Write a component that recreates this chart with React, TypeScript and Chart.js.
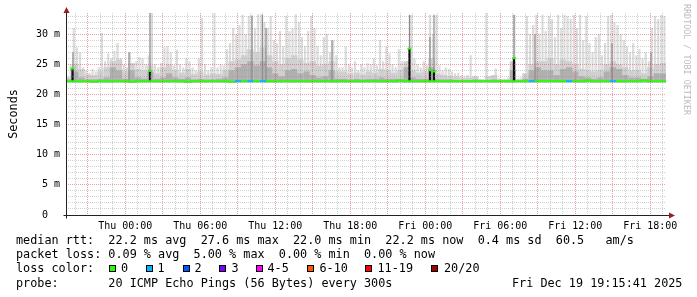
import React, { useEffect, useRef } from 'react';
import { Chart, registerables } from 'chart.js';

Chart.register(...registerables);

// ---------- time axis: hours relative to Thu 00:00 ----------
const T_START = -4.738; // Wed 19:15:41
const T_END = 43.262; // Fri 19:15:41
const FINE_STEP = 0.25; // 15 min slots
const COARSE_STEP = 0.5; // 30 min slots
const SMOKE_FLOOR = 22.0;
const Y_MAX = 33.5;

// ---------- tick labels ----------
const xTickHours = [0, 6, 12, 18, 24, 30, 36, 42];
const xTickLabels = ['Thu 00:00', 'Thu 06:00', 'Thu 12:00', 'Thu 18:00', 'Fri 00:00', 'Fri 06:00', 'Fri 12:00', 'Fri 18:00'];
const yTickValues = [0, 5, 10, 15, 20, 25, 30];
const yTickLabels = ['0  ', '5 m', '10 m', '15 m', '20 m', '25 m', '30 m'];

// ---------- smoke: highest ping per 15 min slot (ms) ----------
const smokeMax = [
  23.0, 25.0, 31.0, 27.8, 27.0, 24.5, 24.0, 23.6,
  24.2, 23.8, 24.5, 30.2, 25.5, 26.8, 26.0, 27.2,
  28.5, 26.0, 25.0, 24.5, 27.0, 24.2, 25.5, 26.2,
  26.0, 25.0, 26.5, 33.5, 25.0, 24.5, 25.2, 27.8,
  28.0, 27.0, 24.8, 27.4, 25.0, 24.5, 26.0, 25.5,
  24.5, 24.0, 26.0, 32.7, 25.0, 24.0, 24.5, 33.5,
  24.5, 25.0, 24.8, 27.5, 28.5, 31.0, 30.0, 31.5,
  33.2, 30.0, 33.0, 33.2, 31.0, 33.3, 33.3, 32.0,
  31.0, 33.0, 29.0, 28.5, 30.5, 28.0, 33.0, 30.5,
  31.0, 33.3, 32.0, 29.5, 28.0, 30.5, 33.0, 31.0,
  28.0, 26.5, 29.5, 30.0, 27.0, 29.0, 26.5, 24.5,
  24.5, 27.9, 25.0, 24.5, 25.5, 24.0, 25.0, 24.5,
  25.2, 25.0, 26.0, 24.8, 29.0, 25.5, 27.9, 26.8,
  25.0, 24.5, 27.5, 25.5, 25.0, 25.5, 33.2, 26.0,
  25.0, 24.5, 25.5, 24.8, 33.2, 30.0, 33.2, 24.8,
  24.0, 24.5, 24.2, 23.8, 23.5, 23.6, 23.2, 23.0,
  23.2, 26.5, 23.0, 22.6, 22.6, 22.5, 33.5, 22.6,
  23.0, 24.3, 22.7, 22.6, 22.6, 22.8, 23.5, 33.2,
  22.7, 22.8, 22.9, 33.0, 30.0, 31.5, 33.2, 30.0,
  33.2, 30.5, 33.0, 32.5, 29.5, 33.2, 31.0, 33.2,
  33.0, 32.5, 33.2, 31.0, 33.2, 29.0, 33.0, 28.5,
  27.0, 29.5, 30.0, 26.5, 28.5, 33.0, 33.2, 32.0,
  31.5, 30.0, 29.0, 28.0, 27.0, 28.5, 26.5, 27.5,
  26.0, 27.0, 25.5, 31.0, 33.0, 32.5, 33.2, 33.0,
];

// ---------- smoke: upper quartile per 30 min slot ----------
const smokeMid = [
  22.8, 25.0, 24.2, 23.3, 23.2, 23.8, 24.5, 25.5,
  25.8, 23.8, 25.2, 24.2, 24.0, 24.8, 23.5, 24.5,
  25.0, 24.0, 23.6, 24.2, 23.4, 23.8, 23.3, 23.5,
  23.4, 24.0, 25.5, 25.8, 26.5, 27.5, 27.0, 27.8,
  26.5, 25.5, 25.0, 26.0, 26.5, 25.8, 25.2, 25.5,
  24.8, 25.0, 25.5, 23.8, 23.8, 23.4, 23.6, 23.3,
  23.8, 23.6, 24.2, 24.0, 23.6, 24.0, 25.5, 24.0,
  23.6, 23.8, 26.0, 23.4, 23.2, 23.0, 22.9, 22.7,
  22.8, 23.0, 22.5, 23.0, 23.2, 22.5, 22.5, 25.5,
  22.5, 23.5, 25.0, 25.5, 25.5, 26.0, 25.0, 25.8,
  25.5, 25.0, 24.2, 24.0, 23.8, 24.0, 25.0, 25.5,
  25.0, 24.5, 24.0, 24.0, 23.5, 24.5, 25.0, 25.2,
];

// ---------- smoke: dense core per 30 min slot ----------
const smokeDark = [
  22.5, 23.8, 22.8, 22.5, 22.5, 22.6, 22.8, 24.5,
  24.0, 22.6, 24.0, 22.8, 22.6, 23.8, 22.6, 22.8,
  23.5, 22.8, 22.6, 22.8, 22.5, 22.6, 22.5, 22.5,
  22.6, 22.8, 24.0, 24.5, 25.0, 25.5, 24.8, 25.5,
  24.5, 23.5, 23.0, 24.0, 24.2, 23.5, 23.8, 23.2,
  22.8, 23.0, 24.0, 22.6, 22.6, 22.5, 22.6, 22.5,
  22.6, 22.6, 22.8, 22.6, 22.6, 22.6, 24.5, 22.8,
  22.6, 22.6, 24.5, 22.5, 22.5, 22.5, 22.4, 22.4,
  22.4, 22.5, 22.4, 22.4, 22.5, 22.4, 22.4, 24.0,
  22.4, 22.6, 24.0, 24.5, 24.0, 24.0, 23.2, 24.2,
  24.5, 23.8, 23.0, 22.8, 22.6, 22.8, 23.8, 24.5,
  24.2, 23.2, 22.8, 22.8, 22.6, 23.0, 23.5, 23.5,
];

// ---------- median rtt and lost pings per 30 min slot ----------
const medianRtt = [
  22.2, 22.2, 22.2, 22.2, 22.1, 22.2, 22.2, 22.2,
  22.2, 22.2, 22.1, 22.2, 22.2, 22.2, 22.2, 22.2,
  22.2, 22.2, 22.2, 22.1, 22.2, 22.2, 22.2, 22.2,
  22.2, 22.2, 22.1, 22.2, 22.2, 22.2, 22.2, 22.2,
  22.2, 22.2, 22.2, 22.2, 22.2, 22.2, 22.2, 22.2,
  22.2, 22.2, 22.2, 22.2, 22.2, 22.2, 22.2, 22.2,
  22.2, 22.2, 22.2, 22.2, 22.2, 22.3, 22.2, 22.2,
  22.2, 22.2, 22.2, 22.2, 22.2, 22.2, 22.2, 22.2,
  22.2, 22.2, 22.2, 22.2, 22.2, 22.2, 22.2, 22.2,
  22.2, 22.2, 22.2, 22.2, 22.2, 22.2, 22.2, 22.2,
  22.2, 22.2, 22.2, 22.3, 22.2, 22.2, 22.2, 22.2,
  22.2, 22.2, 22.2, 22.2, 22.3, 22.2, 22.2, 22.2,
];
const lossCount = [
  0, 0, 0, 0, 0, 0, 0, 0, 0, 0, 0, 0, 0, 0, 0, 0,
  0, 0, 0, 0, 0, 0, 0, 0, 0, 0, 0, 1, 0, 1, 0, 1,
  0, 0, 0, 0, 0, 0, 0, 0, 0, 0, 0, 0, 0, 0, 0, 0,
  0, 0, 0, 0, 0, 0, 0, 0, 0, 0, 0, 0, 0, 0, 0, 0,
  0, 0, 0, 0, 0, 0, 0, 0, 0, 0, 1, 0, 0, 0, 0, 0,
  1, 0, 0, 0, 0, 0, 0, 1, 0, 0, 0, 0, 0, 0, 0, 0,
];

// ---------- isolated spikes ----------
const greySpikeHours = [-4.18, 0.3, 1.98, 10.14, 10.98, 11.26, 16.54, 22.74, 24.38, 24.7, 31.1, 32.78, 38.94, 42.06];
const greySpikeTop = [27.0, 27.0, 33.5, 33.0, 33.2, 31.0, 29.0, 33.2, 29.5, 33.2, 33.2, 30.0, 28.5, 27.0];
const blackSpikeHours = [-4.22, 1.98, 22.74, 24.38, 24.7, 31.1];
const blackSpikeTop = [24.3, 24.0, 27.7, 24.0, 24.0, 26.0];
const medianJumpHours = [-4.22, 1.98, 22.74, 24.38, 24.7, 31.1];
const medianJumpValue = [24.3, 23.9, 27.6, 24.0, 23.8, 26.0];

// ---------- legend ----------
const rttStats = ['22.2', '27.6', '22.0', '22.2'];
const rttSd = '0.4';
const rttAmS = '60.5';
const lossStats = ['0.09', '5.00', '0.00', '0.00'];
const lossLabels = ['0', '1', '2', '3', '4-5', '6-10', '11-19', '20/20'];
const lossColors = ['#26ff00', '#00b8ff', '#0059ff', '#7e00ff', '#ff00ff', '#ff5500', '#ff0000', '#a10000'];
const probeText = '20 ICMP Echo Pings (56 Bytes) every 300s';
const stampText = 'Fri Dec 19 19:15:41 2025';

// layout of the loss colour legend (pixels)
const lossBoxLeft = [109, 146, 183, 219, 256, 307, 365, 431];
const lossTextLeft = [121, 157.5, 194.5, 231.5, 267.5, 319.5, 377.5, 444];

const MONO = '"DejaVu Sans Mono", monospace';
const GRID_MAJOR = 'rgba(222, 80, 80, 0.55)';
const GRID_MINOR = 'rgba(150, 150, 150, 0.45)';

const decorPlugin = {
  id: 'decor',
  afterDraw(chart: any) {
    const { ctx, scales } = chart;
    const x = scales.x;
    const y = scales.y;
    const x0 = Math.round(x.getPixelForValue(T_START)) + 0.5;
    const x1 = x.getPixelForValue(T_END);
    const y0 = Math.round(y.getPixelForValue(0)) + 0.5;
    const yTop = y.getPixelForValue(Y_MAX);
    ctx.save();
    ctx.strokeStyle = '#222';
    ctx.lineWidth = 1;
    ctx.beginPath();
    ctx.moveTo(x0 - 3, y0);
    ctx.lineTo(x1 + 3, y0);
    ctx.moveTo(x0, y0 + 3);
    ctx.lineTo(x0, yTop - 1);
    ctx.stroke();
    ctx.fillStyle = '#9b1c1c';
    ctx.beginPath();
    ctx.moveTo(x1 + 9, y0);
    ctx.lineTo(x1 + 3, y0 - 3);
    ctx.lineTo(x1 + 3, y0 + 3);
    ctx.closePath();
    ctx.fill();
    ctx.beginPath();
    ctx.moveTo(x0, yTop - 6);
    ctx.lineTo(x0 - 3, yTop);
    ctx.lineTo(x0 + 3, yTop);
    ctx.closePath();
    ctx.fill();

    ctx.fillStyle = '#000';
    ctx.font = `11.8px ${MONO}`;
    ctx.textAlign = 'center';
    ctx.textBaseline = 'alphabetic';
    ctx.translate(16.5, 114);
    ctx.rotate(-Math.PI / 2);
    ctx.fillText('Seconds', 0, 0);
    ctx.restore();

    ctx.save();
    ctx.fillStyle = '#bcbcbc';
    ctx.font = `8.4px ${MONO}`;
    ctx.textAlign = 'center';
    ctx.textBaseline = 'alphabetic';
    ctx.translate(684, 59.5);
    ctx.rotate(Math.PI / 2);
    ctx.fillText('RRDTOOL / TOBI OETIKER', 0, 0);
    ctx.restore();
  },
};

function buildConfig(): any {
  const lightData = smokeMax.map((v, i) => ({ x: T_START + (i + 0.5) * FINE_STEP, y: [SMOKE_FLOOR, v] }));
  const midData = smokeMid.map((v, i) => ({ x: T_START + (i + 0.5) * COARSE_STEP, y: [SMOKE_FLOOR, v] }));
  const darkData = smokeDark.map((v, i) => ({ x: T_START + (i + 0.5) * COARSE_STEP, y: [SMOKE_FLOOR, v] }));
  const greyData = greySpikeHours.map((h, i) => ({ x: h, y: [SMOKE_FLOOR, greySpikeTop[i]] }));
  const blackData = blackSpikeHours.map((h, i) => ({ x: h, y: [22.2, blackSpikeTop[i]] }));
  const medianData = medianRtt.map((v, i) => ({ x: T_START + i * COARSE_STEP, y: v }));
  medianData.push({ x: T_END, y: medianRtt[medianRtt.length - 1] });
  const jumpData = medianJumpHours.map((h, i) => ({ x: h, y: medianJumpValue[i] }));

  const hourTicks: { value: number }[] = [];
  for (let h = Math.ceil(T_START); h <= Math.floor(T_END); h++) hourTicks.push({ value: h });
  const mTicks: { value: number }[] = [];
  for (let v = 0; v <= Math.floor(Y_MAX); v++) mTicks.push({ value: v });

  const barBase = { type: 'bar', grouped: false, borderWidth: 0, inflateAmount: 0 };

  return {
    type: 'bar',
    data: {
      datasets: [
        { ...barBase, data: lightData, backgroundColor: '#dcdcdc', barThickness: 2.2, order: 10 },
        { ...barBase, data: midData, backgroundColor: '#d0d0d0', barThickness: 6.3, order: 9 },
        { ...barBase, data: darkData, backgroundColor: '#b0b0b0', barThickness: 6.3, order: 8 },
        { ...barBase, data: greyData, backgroundColor: '#8a8a8a', barThickness: 1.2, order: 7 },
        { ...barBase, data: blackData, backgroundColor: '#111111', barThickness: 2.2, order: 6 },
        {
          type: 'line',
          data: medianData,
          stepped: 'before',
          borderWidth: 2,
          borderColor: lossColors[0],
          pointRadius: 0,
          order: 5,
          segment: {
            borderColor: (c: any) => lossColors[lossCount[c.p0DataIndex] || 0],
          },
        },
        {
          type: 'scatter',
          data: jumpData,
          pointStyle: 'line',
          pointRadius: 2,
          pointBorderWidth: 2,
          borderColor: lossColors[0],
          pointBorderColor: lossColors[0],
          order: 4,
        },
      ],
    },
    options: {
      responsive: false,
      animation: false,
      devicePixelRatio: 1,
      events: [],
      layout: { padding: { top: 13, right: 31, left: 0, bottom: 0 } },
      plugins: { legend: { display: false }, tooltip: { enabled: false } },
      scales: {
        x: {
          type: 'linear',
          min: T_START,
          max: T_END,
          offset: false,
          afterBuildTicks: (s: any) => { s.ticks = hourTicks.map(t => ({ ...t })); },
          afterFit: (s: any) => { s.height = 82; },
          grid: {
            offset: false,
            z: 1,
            drawTicks: false,
            lineWidth: 1,
            color: (c: any) => (c.tick && c.tick.value % 3 === 0 ? GRID_MAJOR : GRID_MINOR),
          },
          border: { display: false, dash: [1, 1] },
          ticks: {
            autoSkip: false,
            maxRotation: 0,
            minRotation: 0,
            padding: 5,
            color: '#000',
            font: { family: MONO, size: 10 },
            callback: (v: any) => {
              const k = xTickHours.indexOf(Number(v));
              return k >= 0 ? xTickLabels[k] : '';
            },
          },
        },
        y: {
          type: 'linear',
          min: 0,
          max: Y_MAX,
          afterBuildTicks: (s: any) => { s.ticks = mTicks.map(t => ({ ...t })); },
          afterFit: (s: any) => { s.width = 66; },
          grid: {
            z: 1,
            drawTicks: false,
            lineWidth: 1,
            color: (c: any) => (c.tick && c.tick.value % 5 === 0 ? GRID_MAJOR : GRID_MINOR),
          },
          border: { display: false, dash: [1, 1] },
          ticks: {
            autoSkip: false,
            padding: 6,
            color: '#000',
            font: { family: MONO, size: 10 },
            callback: (v: any) => {
              const k = yTickValues.indexOf(Number(v));
              return k >= 0 ? yTickLabels[k] : '';
            },
          },
        },
      },
    },
    plugins: [decorPlugin],
  };
}

const textStyle: React.CSSProperties = {
  position: 'absolute',
  fontFamily: MONO,
  fontSize: '11.8px',
  lineHeight: '14px',
  whiteSpace: 'pre',
  color: '#000',
  margin: 0,
};

export default function App() {
  const ref = useRef<HTMLCanvasElement>(null);
  useEffect(() => {
    document.body.style.margin = '0';
    const chart = new Chart(ref.current as HTMLCanvasElement, buildConfig());
    return () => chart.destroy();
  }, []);

  const line1 = `median rtt:  ${rttStats[0]} ms avg  ${rttStats[1]} ms max  ${rttStats[2]} ms min  ${rttStats[3]} ms now  ${rttSd} ms sd  ${rttAmS}   am/s`;
  const line2 = `packet loss: ${lossStats[0]} % avg  ${lossStats[1]} % max  ${lossStats[2]} % min  ${lossStats[3]} % now`;
  const line4 = `probe:       ${probeText}`;

  return (
    <div style={{ position: 'relative', width: 697, height: 297, background: '#fff', overflow: 'hidden' }}>
      <canvas ref={ref} width={697} height={297} style={{ position: 'absolute', left: 0, top: 0 }} />
      <div style={{ ...textStyle, left: 16, top: 233 }}>{line1}</div>
      <div style={{ ...textStyle, left: 16, top: 247.2 }}>{line2}</div>
      <div style={{ ...textStyle, left: 16, top: 261.4 }}>loss color:</div>
      {lossLabels.map((lab, i) => (
        <React.Fragment key={lab}>
          <div
            style={{
              position: 'absolute',
              left: lossBoxLeft[i],
              top: 265,
              width: 7,
              height: 7,
              boxSizing: 'border-box',
              border: '1px solid #000',
              background: lossColors[i],
            }}
          />
          <div style={{ ...textStyle, left: lossTextLeft[i], top: 261.4 }}>{lab}</div>
        </React.Fragment>
      ))}
      <div style={{ ...textStyle, left: 16, top: 275.6 }}>{line4}</div>
      <div style={{ ...textStyle, left: 512, top: 275.6 }}>{stampText}</div>
    </div>
  );
}
